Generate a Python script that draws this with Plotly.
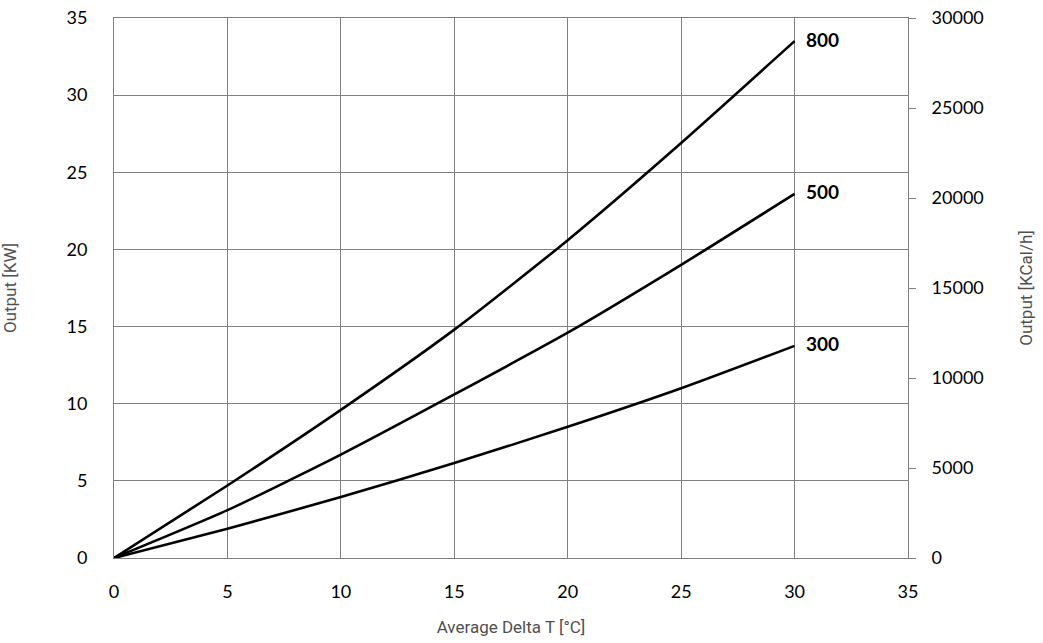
import plotly.graph_objects as go

delta_t = [0, 5, 10, 15, 20, 25, 30]
out_800 = [0, 4.7, 9.6, 14.8, 20.6, 26.9, 33.5]
out_500 = [0, 3.1, 6.7, 10.6, 14.6, 19.0, 23.6]
out_300 = [0, 1.9, 3.95, 6.15, 8.5, 11.0, 13.75]
series_names = ["800", "500", "300"]

fig = go.Figure()
for name, vals in zip(series_names, [out_800, out_500, out_300]):
    fig.add_trace(go.Scatter(
        x=delta_t, y=vals, mode="lines",
        line=dict(color="black", width=2.6, shape="spline", smoothing=0.6),
        showlegend=False,
    ))
    fig.add_annotation(x=delta_t[-1], y=vals[-1], text="<b>" + name + "</b>",
                       showarrow=False, xanchor="left", xshift=9, yshift=2,
                       font=dict(family="Lato, Noto Sans, sans-serif", size=19, color="black"))

# invisible trace for the right axis
fig.add_trace(go.Scatter(x=[0], y=[0], yaxis="y2", mode="markers",
                         marker=dict(opacity=0), showlegend=False, hoverinfo="skip"))

tickfont = dict(family="Lato, Noto Sans, sans-serif", size=18, color="black")
titlefont = dict(family="Roboto, sans-serif", size=17, color="#505050")

fig.update_layout(
    width=1043, height=643,
    paper_bgcolor="white", plot_bgcolor="white",
    margin=dict(l=114, r=135, t=18, b=85),
    xaxis=dict(range=[0, 35], dtick=5, showgrid=True, gridcolor="#808080", gridwidth=1,
               showline=True, linecolor="#808080", mirror=True, zeroline=False,
               ticks="", tickfont=tickfont, ticklabelstandoff=17, automargin=False,
               ticklabeloverflow="allow",
               title=dict(text="Average Delta T [°C]", font=titlefont, standoff=20)),
    yaxis=dict(range=[0, 35], dtick=5, showgrid=True, gridcolor="#808080", gridwidth=1,
               showline=True, linecolor="#808080", zeroline=False,
               ticks="", tickfont=tickfont, ticklabelstandoff=22, automargin=False,
               ticklabeloverflow="allow",
               title=dict(text="Output [KW]", font=titlefont, standoff=48)),
    yaxis2=dict(range=[0, 30000], dtick=5000, overlaying="y", side="right",
                showgrid=False, zeroline=False, showline=True, linecolor="#808080",
                ticks="outside", ticklen=7, tickcolor="#808080", tickformat="d",
                tickfont=tickfont, ticklabelstandoff=12, automargin=False,
                ticklabeloverflow="allow",
                title=dict(text="Output [KCal/h]", font=titlefont, standoff=37)),
)

fig.write_html("out.html", config={"displayModeBar": False},
               post_script="document.body.style.margin='0';")
